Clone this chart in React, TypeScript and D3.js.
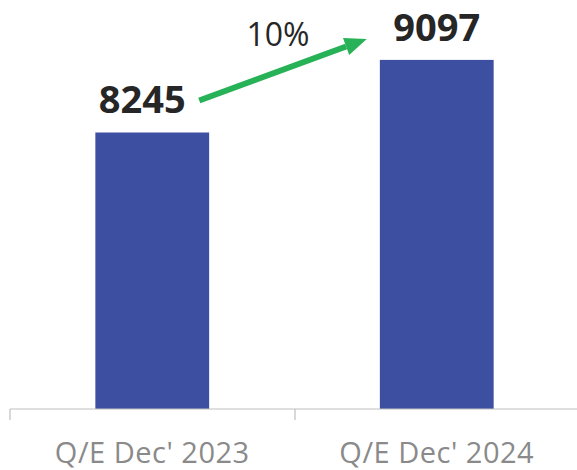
import React from "react";
import * as d3 from "d3";

const categories = ["Q/E Dec' 2023", "Q/E Dec' 2024"];
const values = [8245, 9097];
const growthLabel = "10%";

const W = 577;
const H = 470;

export default function App() {
  const x = d3.scaleBand<string>().domain(categories).range([10, 579]).paddingInner(0.6).paddingOuter(0.3);
  const y = d3.scaleLinear().domain([5000, 9800]).range([409, 0]);
  const font = "'Open Sans', 'Noto Sans', sans-serif";
  const bw = x.bandwidth();
  const labelOffsets = [-10, 0];

  const x0 = x(categories[0])! + bw / 2;
  const x1 = x(categories[1])! + bw / 2;
  const ax0 = x0 + 47;
  const ay0 = y(values[0]) - 32;
  const ax1 = x1 - 70;
  const ay1 = y(values[1]) - 21;
  const ang = Math.atan2(ay1 - ay0, ax1 - ax0);
  const headLen = 22;
  const headW = 9;
  const bx = ax1 - headLen * Math.cos(ang);
  const by = ay1 - headLen * Math.sin(ang);
  const nx = -Math.sin(ang);
  const ny = Math.cos(ang);

  const ticks = [10, 295, 579];

  return (
    <svg width={W} height={H} style={{ position: "absolute", left: 0, top: 0 }}>
      <rect width={W} height={H} fill="#fff" />
      {categories.map((c, i) => (
        <rect key={c} x={x(c)} y={y(values[i])} width={bw} height={409 - y(values[i])} fill="#3c4fa0" />
      ))}
      <line x1={10} x2={579} y1={409} y2={409} stroke="#bfbfbf" strokeWidth={1.2} />
      {ticks.map((t) => (
        <line key={t} x1={t} x2={t} y1={409} y2={420} stroke="#bfbfbf" strokeWidth={1.2} />
      ))}
      {categories.map((c) => (
        <text key={c} x={x(c)! + bw / 2} y={463} textAnchor="middle" fontFamily={font} fontSize={29} letterSpacing={0.5} fill="#8a8a8a">
          {c}
        </text>
      ))}
      {categories.map((c, i) => (
        <text key={c + "v"} x={x(c)! + bw / 2 + labelOffsets[i]} y={y(values[i]) - 19} textAnchor="middle" fontFamily={font} fontWeight={700} fontSize={38} fill="#262626">
          {values[i]}
        </text>
      ))}
      <line x1={ax0} y1={ay0} x2={bx} y2={by} stroke="#28b257" strokeWidth={6} />
      <path
        d={`M${ax1},${ay1} L${bx + nx * headW},${by + ny * headW} L${bx - nx * headW},${by - ny * headW} Z`}
        fill="#28b257"
      />
      <text x={278} y={46} textAnchor="middle" fontFamily={font} fontSize={32} fill="#262626">
        {growthLabel}
      </text>
    </svg>
  );
}
